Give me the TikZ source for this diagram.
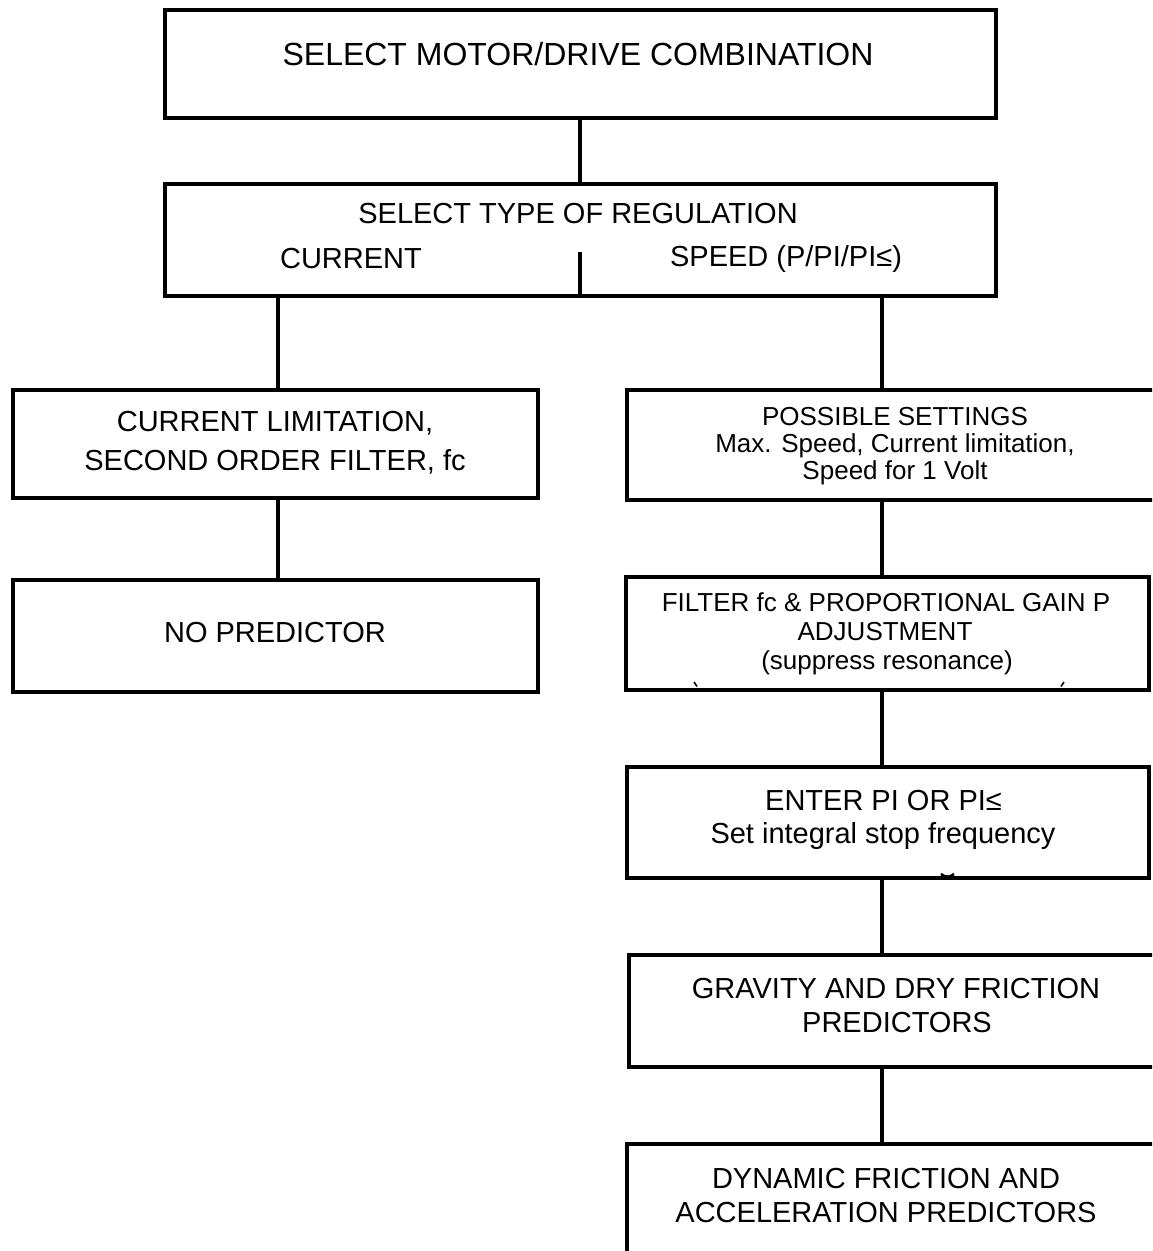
\documentclass[tikz,border=0pt]{standalone}
\usepackage{fontspec}
\setmainfont{Liberation Sans}
\begin{document}
\begin{tikzpicture}[x=1pt,y=-1pt,
  box/.style={draw, line width=4pt, inner sep=0pt, outer sep=0pt},
  conn/.style={line width=4pt},
  t/.style={inner sep=0pt, outer sep=0pt, anchor=base, font=\fontsize{29}{34}\selectfont},
  ts/.style={t, font=\fontsize{26}{30}\selectfont},
  tl/.style={t, font=\fontsize{32}{38}\selectfont},
  remnant/.style={line width=1.6pt}]
\useasboundingbox (0,0) rectangle (1152,1251);
\clip (0,0) rectangle (1152,1251);
\fill[white] (0,0) rectangle (1152,1251);
% boxes
\node[box, minimum width=831.5pt, minimum height=108pt] (top) at (580.25,63.5) {};
\node[box, minimum width=831.5pt, minimum height=112pt] (reg) at (580.25,240) {};
\node[box, minimum width=525pt, minimum height=108pt] (lim) at (275.5,444) {};
\node[box, minimum width=525pt, minimum height=112pt] (nopred) at (275.5,636) {};
\node[box, minimum width=543pt, minimum height=110pt] (pos) at (898.5,445) {};
\node[box, minimum width=523pt, minimum height=113pt] (filt) at (887.5,633.5) {};
\node[box, minimum width=522pt, minimum height=111pt] (enter) at (888,822.5) {};
\node[box, minimum width=541pt, minimum height=112pt] (grav) at (899.5,1011) {};
\node[box, minimum width=543pt, minimum height=136pt] (dyn) at (898.5,1212) {};
% helper coordinates
\coordinate (rx) at (882,0);
\coordinate (lx) at (278,0);
\coordinate (div) at (580,252);
% connectors
\draw[conn] (top.south) -- (reg.north);
\draw[conn] (div) -- (div |- reg.south);
\draw[conn] (lx |- reg.south) -- (lx |- lim.north);
\draw[conn] (lx |- lim.south) -- (lx |- nopred.north);
\draw[conn] (rx |- reg.south) -- (rx |- pos.north);
\draw[conn] (rx |- pos.south) -- (rx |- filt.north);
\draw[conn] (rx |- filt.south) -- (rx |- enter.north);
\draw[conn] (rx |- enter.south) -- (rx |- grav.north);
\draw[conn] (rx |- grav.south) -- (rx |- dyn.north);
% texts
\node[tl] (t1) at (578,65.7) {SELECT MOTOR/DRIVE COMBINATION};
\node[t] (t2) at (578,223) {SELECT TYPE OF REGULATION};
\node[t] (t3) at (351,268) {CURRENT};
\node[t] (t4) at (786,266) {SPEED (P/PI/PI≤)};
\node[t] (t5) at (275,431) {CURRENT LIMITATION,};
\node[t] (t6) at (275,470) {SECOND ORDER FILTER, fc};
\node[t] (t7) at (275,642) {NO PREDICTOR};
\node[ts] (t8) at (895,425) {POSSIBLE SETTINGS};
\node[ts] (t9) at (895,452) {Max. Speed, Current limitation,};
\node[ts] (t10) at (895,479) {Speed for 1 Volt};
\node[ts] (t11) at (886,611) {FILTER fc \& PROPORTIONAL GAIN P};
\node[ts] (t12) at (885,640) {ADJUSTMENT};
\node[ts] (t13) at (887,669) {(suppress resonance)};
\node[t] (t14) at (883.5,810) {ENTER PI OR PI≤};
\node[t] (t15) at (883,843) {Set integral stop frequency};
\node[t] (t16) at (896,998) {GRAVITY AND DRY FRICTION};
\node[t] (t17) at (897,1032) {PREDICTORS};
\node[t] (t18) at (886,1188) {DYNAMIC FRICTION AND};
\node[t] (t19) at (886,1222) {ACCELERATION PREDICTORS};
% small clipped glyph remnants
\draw[remnant] (694,682) -- (697,686.5);
\draw[remnant] (1064,682) -- (1061,686.5);
\draw[line width=2.5pt] (941,874) .. controls (945,877.5) and (950,877.5) .. (954,874);
\end{tikzpicture}
\end{document}
